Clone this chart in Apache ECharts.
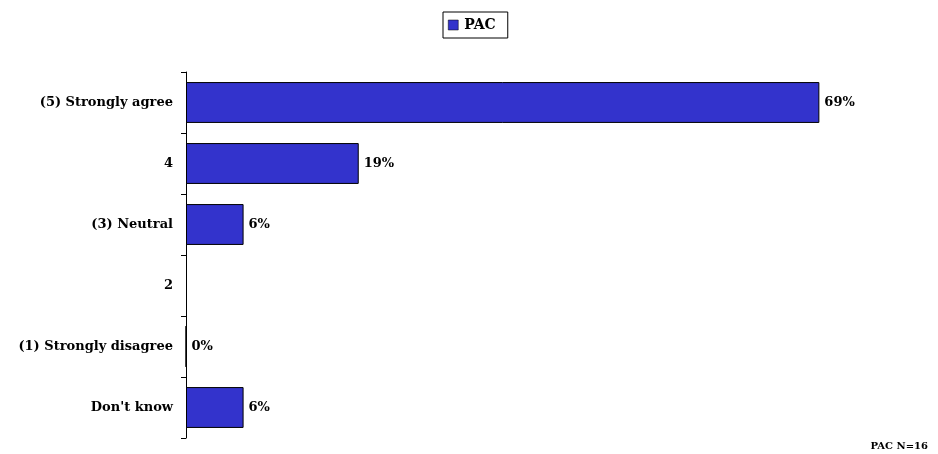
<!DOCTYPE html>
<html>
<head>
<meta charset="utf-8">
<script src="https://cdn.jsdelivr.net/npm/echarts@6/dist/echarts.min.js"></script>
<style>
  html, body { margin: 0; padding: 0; background: #fff; }
  #chart { width: 938px; height: 454px; }
</style>
</head>
<body>
<div id="chart"></div>
<script>
// Survey responses, PAC N=16 (share of respondents, %)
const categories = ['(5) Strongly agree', '4', '(3) Neutral', '2', '(1) Strongly disagree', "Don't know"];
const pacValues = [68.75, 18.75, 6.25, null, 0, 6.25];
const seriesName = 'PAC';
const footnote = 'PAC N=16';

const font = 'DejaVu Serif, serif';

const chart = echarts.init(document.getElementById('chart'));

chart.setOption({
    animation: false,
    textStyle: { fontFamily: font },
    legend: {
        data: [seriesName],
        left: 443,
        top: 12,
        padding: [6, 12, 6, 5],
        borderColor: '#000',
        borderWidth: 1,
        itemWidth: 10,
        itemHeight: 10,
        itemGap: 4,
        icon: 'rect',
        itemStyle: { borderColor: '#000', borderWidth: 0.5 },
        textStyle: { fontFamily: font, fontWeight: 'bold', fontSize: 14, color: '#000', padding: [0, 0, 0, 1] }
    },
    grid: { left: 186, right: 15, top: 72, bottom: 16, containLabel: false },
    xAxis: {
        type: 'value',
        min: 0,
        max: 80,
        show: false
    },
    yAxis: {
        type: 'category',
        data: categories,
        inverse: true,
        axisLine: { show: true, lineStyle: { color: '#000', width: 1 } },
        axisTick: { show: true, length: 5, lineStyle: { color: '#000' } },
        axisLabel: {
            color: '#000',
            fontFamily: font,
            fontWeight: 'bold',
            fontSize: 13,
            margin: 13
        }
    },
    series: [{
        name: seriesName,
        type: 'bar',
        data: pacValues,
        barCategoryGap: '33%',
        itemStyle: { color: '#3333CC', borderColor: '#000', borderWidth: 1 },
        label: {
            show: true,
            position: 'right',
            distance: 5,
            color: '#000',
            fontFamily: font,
            fontWeight: 'bold',
            fontSize: 13,
            formatter: p => (p.value == null ? '' : Math.round(p.value) + '%')
        }
    }],
    graphic: [{
        type: 'text',
        right: 10,
        bottom: 3,
        style: { text: footnote, fontFamily: font, fontWeight: 'bold', fontSize: 10, fill: '#000' }
    }]
});
</script>
</body>
</html>
